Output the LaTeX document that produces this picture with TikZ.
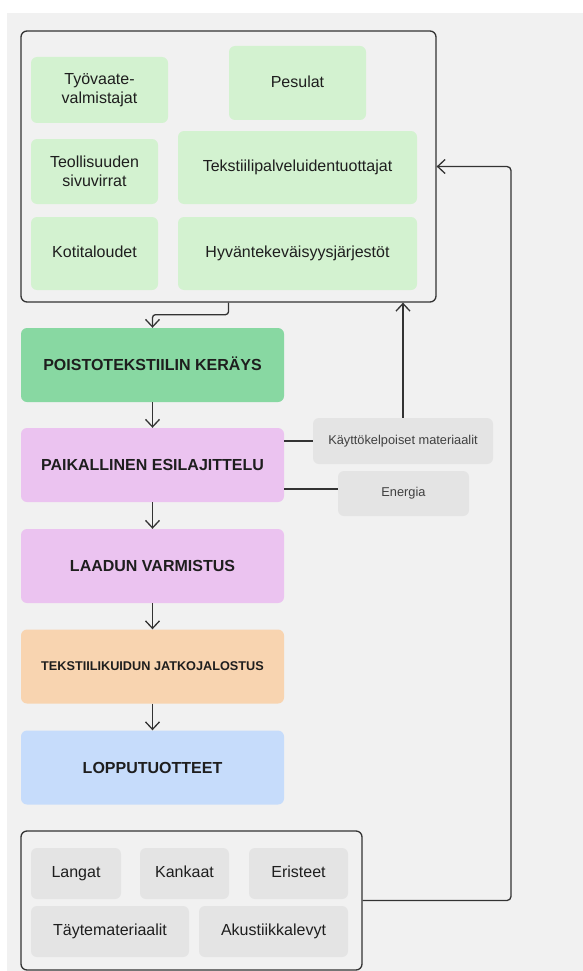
\documentclass[tikz,border=0pt]{standalone}
\usepackage{fontspec}
\setmainfont{Liberation Sans}
\usetikzlibrary{arrows.meta}
\definecolor{bgc}{HTML}{F1F1F1}
\definecolor{lgreen}{HTML}{D3F2D0}
\definecolor{mgreen}{HTML}{88D8A2}
\definecolor{pinkc}{HTML}{EBC3F0}
\definecolor{orangec}{HTML}{F8D4B0}
\definecolor{bluec}{HTML}{C6DCFB}
\definecolor{grayc}{HTML}{E4E4E4}
\definecolor{linec}{HTML}{333333}
\definecolor{txtc}{HTML}{1E1E1E}
\tikzset{
  frame/.style={draw=linec, line width=1.3pt, rounded corners=6pt},
  box/.style={rounded corners=6pt, inner sep=0pt, align=center, text=txtc,
    font=\fontsize{16}{18.5}\selectfont},
  oneline/.style={text height=11.6pt, text depth=3.4pt},
  gbox/.style={box, fill=lgreen},
  mainbox/.style={box, text height=11.6pt, text depth=0.6pt, minimum width=263pt, minimum height=74pt,
    font=\bfseries\fontsize{16}{18.5}\selectfont},
  sidebox/.style={box, fill=grayc, text=txtc!85, text height=9.3pt, text depth=2.7pt,
    font=\fontsize{12.8}{15}\selectfont},
  pbox/.style={box, oneline, fill=grayc, minimum height=51pt},
  conn/.style={draw=linec, line width=1.3pt},
  arr/.style={conn, -{Straight Barb[length=7.5pt,width=14pt,line width=1.3pt]}}
}
\begin{document}
\begin{tikzpicture}[x=1pt,y=-1pt]
\useasboundingbox (0,0) rectangle (583,971);
\fill[bgc] (7,13) rectangle (583,971);

% top container
\node[frame, minimum width=415pt, minimum height=271pt, inner sep=0pt] (top) at (228.5,166.5) {};
\node[gbox, minimum width=137pt, minimum height=66pt] (tyo) at (99.5,90) {Työvaate-\\valmistajat};
\node[gbox, oneline, minimum width=137pt, minimum height=74pt] (pes) at (297.5,83) {Pesulat};
\node[gbox, minimum width=127pt, minimum height=65pt] (teo) at (94.5,171.5) {Teollisuuden\\sivuvirrat};
\node[gbox, oneline, minimum width=239pt, minimum height=73pt] (tek) at (297.5,167.5) {Tekstiilipalveluidentuottajat};
\node[gbox, oneline, minimum width=127pt, minimum height=73pt] (kot) at (94.5,253.5) {Kotitaloudet};
\node[gbox, oneline, minimum width=239pt, minimum height=73pt] (hyv) at (297.5,253.5) {Hyväntekeväisyysjärjestöt};

% main chain
\node[mainbox, fill=mgreen] (ker) at (152.5,365) {POISTOTEKSTIILIN KERÄYS};
\node[mainbox, fill=pinkc] (pai) at (152.5,465) {PAIKALLINEN ESILAJITTELU};
\node[mainbox, fill=pinkc] (laa) at (152.5,566) {LAADUN VARMISTUS};
\node[mainbox, fill=orangec, text height=9.2pt, text depth=0.4pt, font=\bfseries\fontsize{12.7}{15}\selectfont] (jat) at (152.5,666.5) {TEKSTIILIKUIDUN JATKOJALOSTUS};
\node[mainbox, fill=bluec] (lop) at (152.5,767.5) {LOPPUTUOTTEET};

% side boxes
\node[sidebox, minimum width=180pt, minimum height=46pt] (kay) at (403,441) {Käyttökelpoiset materiaalit};
\node[sidebox, minimum width=131pt, minimum height=45pt] (ene) at (403.5,493.5) {Energia};

% bottom container
\node[frame, minimum width=341pt, minimum height=139pt, inner sep=0pt] (bot) at (191.5,900.5) {};
\node[pbox, minimum width=90pt] (lan) at (76,873.5) {Langat};
\node[pbox, minimum width=89pt] (kan) at (184.5,873.5) {Kankaat};
\node[pbox, minimum width=99pt] (eri) at (298.5,873.5) {Eristeet};
\node[pbox, minimum width=158pt] (tay) at (110,931.5) {Täytemateriaalit};
\node[pbox, minimum width=149pt] (aku) at (273.5,931.5) {Akustiikkalevyt};

% connectors
\draw[arr, rounded corners=3pt] (top.south) -- ++(0,12) -| (ker.north);
\draw[arr] (ker.south) -- (pai.north);
\draw[arr] (pai.south) -- (laa.north);
\draw[arr] (laa.south) -- (jat.north);
\draw[arr] (jat.south) -- (lop.north);
\draw[conn] (pai.east |- kay.west) -- (kay.west);
\coordinate (e1) at (338,489);
\draw[conn] (pai.east |- e1) -- (e1);
\draw[arr] (kay.north) -- (kay.north |- top.south);
\coordinate (fb) at (511,900.5);
\draw[arr, rounded corners=4pt] (bot.east) -- (fb) |- (top.east);
\end{tikzpicture}
\end{document}
